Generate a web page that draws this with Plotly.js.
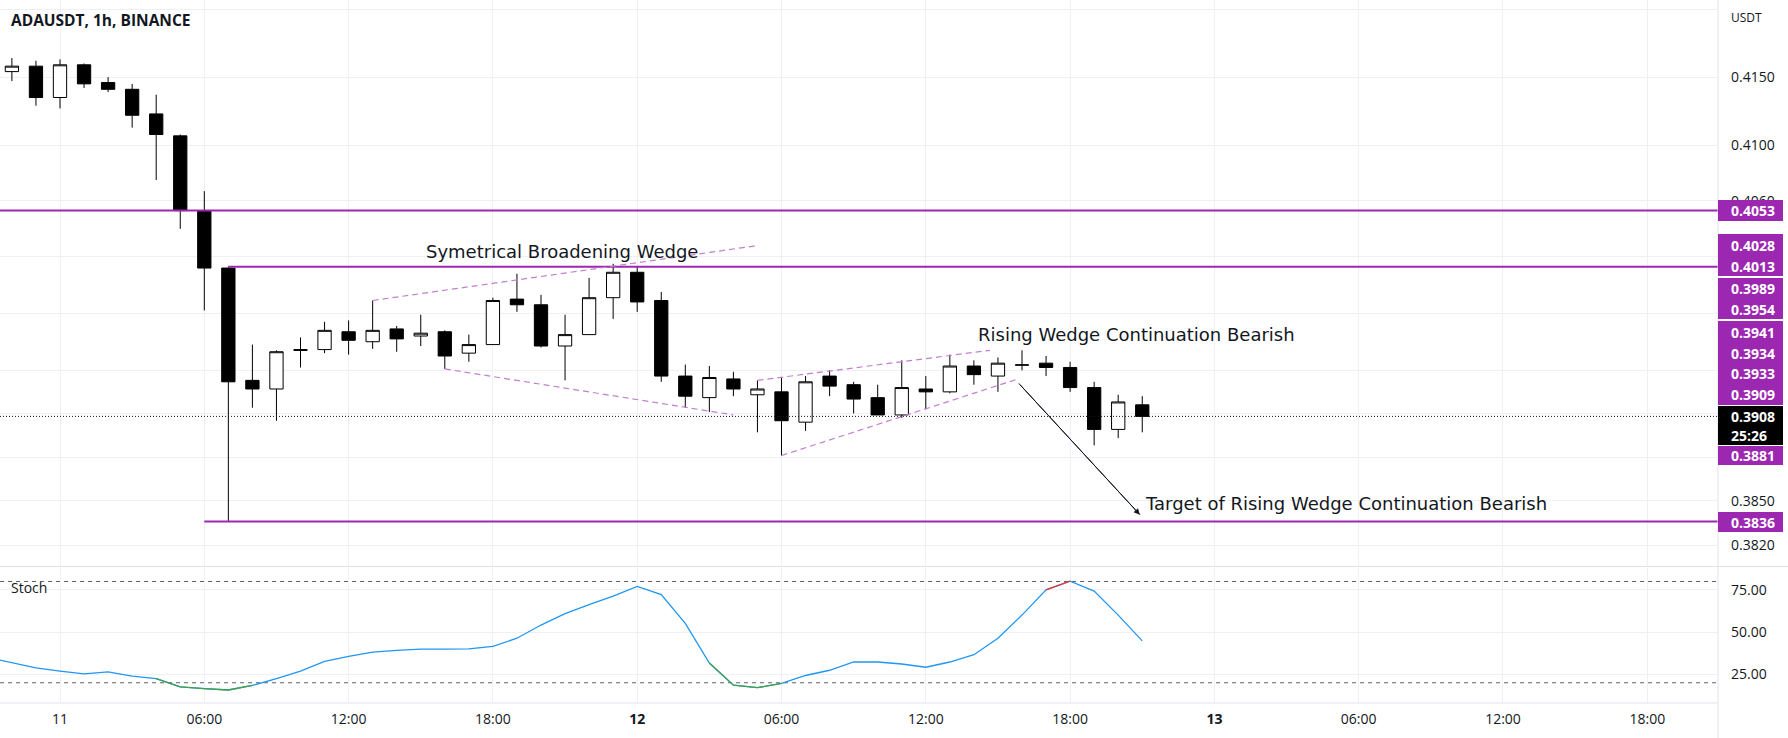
<!DOCTYPE html>
<html>
<head>
<meta charset="utf-8">
<script src="https://cdn.plot.ly/plotly-3.0.1.min.js"></script>
<style>
  html, body { margin: 0; padding: 0; background: #ffffff; }
  #chart { width: 1788px; height: 738px; }
</style>
</head>
<body>
<div id="chart"></div>
<script>
// ---------------- DATA ----------------
const candleTime = [
  '2023-02-10 22:00','2023-02-10 23:00',
  '2023-02-11 00:00','2023-02-11 01:00','2023-02-11 02:00','2023-02-11 03:00','2023-02-11 04:00','2023-02-11 05:00',
  '2023-02-11 06:00','2023-02-11 07:00','2023-02-11 08:00','2023-02-11 09:00','2023-02-11 10:00','2023-02-11 11:00',
  '2023-02-11 12:00','2023-02-11 13:00','2023-02-11 14:00','2023-02-11 15:00','2023-02-11 16:00','2023-02-11 17:00',
  '2023-02-11 18:00','2023-02-11 19:00','2023-02-11 20:00','2023-02-11 21:00','2023-02-11 22:00','2023-02-11 23:00',
  '2023-02-12 00:00','2023-02-12 01:00','2023-02-12 02:00','2023-02-12 03:00','2023-02-12 04:00','2023-02-12 05:00',
  '2023-02-12 06:00','2023-02-12 07:00','2023-02-12 08:00','2023-02-12 09:00','2023-02-12 10:00','2023-02-12 11:00',
  '2023-02-12 12:00','2023-02-12 13:00','2023-02-12 14:00','2023-02-12 15:00','2023-02-12 16:00','2023-02-12 17:00',
  '2023-02-12 18:00','2023-02-12 19:00','2023-02-12 20:00','2023-02-12 21:00'
];
const candleOpen = [
  0.4154, 0.4158,
  0.4135, 0.4159, 0.4146, 0.4141, 0.4123, 0.4107,
  0.4053, 0.4012, 0.3933, 0.3927, 0.39545, 0.39545,
  0.3967, 0.3960, 0.3969, 0.3964, 0.3967, 0.3952,
  0.3958, 0.3990, 0.3986, 0.3957, 0.3965, 0.3991,
  0.4009, 0.3989, 0.3936, 0.3921, 0.3934, 0.3923,
  0.3925, 0.3904, 0.3936, 0.3930, 0.3921, 0.3909,
  0.3927, 0.3925, 0.3943, 0.3936, 0.39436, 0.3945,
  0.3942, 0.3928, 0.3899, 0.3916
];
const candleHigh = [
  0.4164, 0.4162,
  0.4163, 0.4160, 0.4150, 0.4145, 0.4137, 0.4108,
  0.4067, 0.4013, 0.3958, 0.3954, 0.3963, 0.3974,
  0.3975, 0.3989, 0.3971, 0.3979, 0.3968, 0.3965,
  0.3991, 0.4008, 0.3993, 0.3979, 0.4005, 0.4015,
  0.4013, 0.3995, 0.3944, 0.3943, 0.3939, 0.3933,
  0.3935, 0.3936, 0.3940, 0.3932, 0.3930, 0.3947,
  0.3936, 0.3951, 0.3947, 0.3949, 0.3954, 0.3950,
  0.3946, 0.3932, 0.3923, 0.3922
];
const candleLow = [
  0.4147, 0.4129,
  0.4127, 0.4142, 0.4139, 0.4113, 0.4075, 0.4040,
  0.3982, 0.3836, 0.3914, 0.3905, 0.3942, 0.3952,
  0.3951, 0.3955, 0.3953, 0.3957, 0.3941, 0.3946,
  0.3958, 0.3981, 0.3956, 0.3933, 0.3965, 0.3976,
  0.3981, 0.3932, 0.3914, 0.3911, 0.3922, 0.3897,
  0.3881, 0.3898, 0.3922, 0.3910, 0.3909, 0.3907,
  0.3913, 0.3924, 0.3930, 0.3925, 0.3940, 0.3936,
  0.3925, 0.3888, 0.3893, 0.3897
];
const candleClose = [
  0.4158, 0.4135,
  0.4159, 0.4145, 0.4141, 0.4122, 0.4108, 0.4053,
  0.4012, 0.3932, 0.3927, 0.3953, 0.3954, 0.3968,
  0.3961, 0.3968, 0.3962, 0.3966, 0.3950, 0.3958,
  0.3989, 0.3986, 0.3957, 0.3965, 0.3991, 0.4009,
  0.3988, 0.3936, 0.3922, 0.3935, 0.3927, 0.3927,
  0.3905, 0.3932, 0.3929, 0.3920, 0.3909, 0.3928,
  0.3925, 0.3943, 0.3937, 0.3945, 0.39438, 0.3942,
  0.3928, 0.3899, 0.3918, 0.3908
];

// Stochastic %K (one point per hour, starting one bar before the first candle)
const stochTime = ['2023-02-10 21:00'].concat(candleTime);
const stochK = [
  34.9, 31.7, 28.8,
  26.9, 25.3, 26.5, 23.9, 22.4, 17.5,
  16.5, 15.7, 18.4, 22.4, 26.9, 32.7,
  35.6, 38.2, 39.2, 39.9, 39.9, 40.1,
  41.5, 46.4, 54.2, 61.0, 66.3, 71.4,
  77.1, 72.2, 55.2, 31.7, 18.6, 17.1,
  19.6, 24.3, 27.4, 32.3, 32.3, 31.1,
  29.2, 32.3, 36.6, 46.4, 60.1, 75.1,
  80.2, 74.3, 60.1, 44.8
];
const stochOverbought = 80;
const stochOversold = 20;

// Horizontal price levels (purple rays)
const levelPrice = [0.4053, 0.4013, 0.3836];
const levelStart = ['2023-02-10 21:30:18', '2023-02-11 07:00', '2023-02-11 06:00'];

// Pattern lines
const broadUpperTime = ['2023-02-11 13:00', '2023-02-12 05:00'];
const broadUpperPrice = [0.3989, 0.4028];
const broadLowerTime = ['2023-02-11 16:00', '2023-02-12 04:00'];
const broadLowerPrice = [0.3941, 0.3909];
const risingUpperTime = ['2023-02-12 05:00', '2023-02-12 14:40'];
const risingUpperPrice = [0.3933, 0.3954];
const risingLowerTime = ['2023-02-12 06:00', '2023-02-12 15:50'];
const risingLowerPrice = [0.3881, 0.3934];
const arrowTime = ['2023-02-12 15:52', '2023-02-12 20:54'];
const arrowPrice = [0.39309, 0.38406];

const lastPrice = 0.3908;

// Text drawings
const noteText = ['Symetrical Broadening Wedge', 'Rising Wedge Continuation Bearish', 'Target of Rising Wedge Continuation Bearish'];
const noteTime = ['2023-02-11 15:08', '2023-02-12 14:05', '2023-02-12 21:02'];
const notePrice = [0.40239, 0.39652, 0.38481];

// Axis ticks
const xTickVals = ['2023-02-11 00:00','2023-02-11 06:00','2023-02-11 12:00','2023-02-11 18:00',
                   '2023-02-12 00:00','2023-02-12 06:00','2023-02-12 12:00','2023-02-12 18:00',
                   '2023-02-13 00:00','2023-02-13 06:00','2023-02-13 12:00','2023-02-13 18:00'];
const xTickText = ['11','06:00','12:00','18:00','<b>12</b>','06:00','12:00','18:00','<b>13</b>','06:00','12:00','18:00'];
// grid levels of the log price scale; labels hidden behind the price tags are left empty
const priceTickVals = [0.4200, 0.4150, 0.4100, 0.4060, 0.4020, 0.3980, 0.3940, 0.3910, 0.3880, 0.3850, 0.3820];
const priceTickText = ['', '0.4150', '0.4100', '0.4060', '', '', '', '', '', '0.3850', '0.3820'];
const stochTickVals = [25, 50, 75];
const stochTickText = ['25.00', '50.00', '75.00'];

// Price-scale tags (text shown in the boxes on the right axis)
const tagLabels = ['0.4053', '0.4028', '0.4013', '0.3989', '0.3954', '0.3941', '0.3934', '0.3933', '0.3909', '0.3908', '25:26', '0.3881', '0.3836'];

// ---------------- LAYOUT CONSTANTS ----------------
const W = 1788, H = 738;
const PLOT_R = 1718;      // right edge of plotting area (price scale starts here)
const PLOT_B = 703;       // bottom of plotting area (time scale below)
const SPLIT = 566.5;      // boundary between price pane and stochastic pane
const xRange = ['2023-02-10 21:30:18', '2023-02-13 20:56:24'];
const priceRange = [0.38055, 0.42070];
const stochRange = [8.0, 88.3];

const PURPLE = '#9c27b0';
const TEXT = '#131722';
const GRID = '#eef0f5';
const BORDER = '#e0e3eb';

const px2py = (py) => (PLOT_B - py) / PLOT_B;   // pixel row -> paper y
const px2px = (px) => px / PLOT_R;              // pixel col -> paper x

// tag boxes on the price scale (pixel rows)
const tagBoxes = [
  { top: 200, bot: 221, idx: [0],          rows: [210.5], fill: PURPLE },
  { top: 234, bot: 276, idx: [1, 2],       rows: [245.5, 266], fill: PURPLE },
  { top: 278, bot: 319, idx: [3, 4],       rows: [288.5, 309.5], fill: PURPLE },
  { top: 321, bot: 405, idx: [5, 6, 7, 8], rows: [332, 353, 373.5, 394], fill: PURPLE },
  { top: 406, bot: 445, idx: [9, 10],      rows: [416.5, 435], fill: '#000000' },
  { top: 446, bot: 465, idx: [11],         rows: [455.5], fill: PURPLE },
  { top: 512, bot: 532, idx: [12],         rows: [522], fill: PURPLE }
];

// ---------------- TRACES ----------------
const traces = [];

for (let k = 0; k < levelPrice.length; k++) {
  traces.push({
    type: 'scatter', mode: 'lines', xaxis: 'x', yaxis: 'y',
    x: [levelStart[k], xRange[1]], y: [levelPrice[k], levelPrice[k]],
    line: { color: PURPLE, width: 2 }, hoverinfo: 'skip'
  });
}
traces.push({
  type: 'scatter', mode: 'lines', xaxis: 'x', yaxis: 'y',
  x: [xRange[0], xRange[1]], y: [lastPrice, lastPrice],
  line: { color: TEXT, width: 1, dash: '1px,2px' }, hoverinfo: 'skip'
});
[[broadUpperTime, broadUpperPrice], [broadLowerTime, broadLowerPrice],
 [risingUpperTime, risingUpperPrice], [risingLowerTime, risingLowerPrice]].forEach(([t, p]) => {
  traces.push({
    type: 'scatter', mode: 'lines', xaxis: 'x', yaxis: 'y',
    x: t, y: p, line: { color: '#c27fcf', width: 1.2, dash: '6px,4px' }, hoverinfo: 'skip'
  });
});
traces.push({
  type: 'scatter', mode: 'lines', xaxis: 'x', yaxis: 'y',
  x: arrowTime, y: arrowPrice, line: { color: TEXT, width: 1 }, hoverinfo: 'skip'
});

traces.push({
  type: 'candlestick', xaxis: 'x', yaxis: 'y',
  x: candleTime, open: candleOpen, high: candleHigh, low: candleLow, close: candleClose,
  increasing: { line: { color: '#000000', width: 1 }, fillcolor: '#ffffff' },
  decreasing: { line: { color: '#000000', width: 1 }, fillcolor: '#000000' },
  whiskerwidth: 0, hoverinfo: 'skip'
});

traces.push({
  type: 'scatter', mode: 'lines', xaxis: 'x', yaxis: 'y2',
  x: stochTime, y: stochK, line: { color: '#2196f3', width: 1.3 }, hoverinfo: 'skip'
});
function zoneSegments(test) {
  const xs = [], ys = [];
  for (let i = 1; i < stochK.length; i++) {
    if (test(stochK[i])) {
      xs.push(stochTime[i - 1], stochTime[i], null);
      ys.push(stochK[i - 1], stochK[i], null);
    }
  }
  return { xs, ys };
}
const low = zoneSegments(v => v < stochOversold);
const high = zoneSegments(v => v > stochOverbought);
traces.push({
  type: 'scatter', mode: 'lines', xaxis: 'x', yaxis: 'y2', connectgaps: false,
  x: low.xs, y: low.ys, line: { color: '#43a047', width: 1.3 }, hoverinfo: 'skip'
});
traces.push({
  type: 'scatter', mode: 'lines', xaxis: 'x', yaxis: 'y2', connectgaps: false,
  x: high.xs, y: high.ys, line: { color: '#e53935', width: 1.3 }, hoverinfo: 'skip'
});

// ---------------- SHAPES ----------------
const shapes = [
  { type: 'line', xref: 'paper', yref: 'y2', x0: 0, x1: 1, y0: stochOverbought, y1: stochOverbought,
    line: { color: '#5d606b', width: 1, dash: '4px,4px' }, layer: 'below' },
  { type: 'line', xref: 'paper', yref: 'y2', x0: 0, x1: 1, y0: stochOversold, y1: stochOversold,
    line: { color: '#5d606b', width: 1, dash: '4px,4px' }, layer: 'below' },
  { type: 'line', xref: 'paper', yref: 'paper', x0: 0, x1: W / PLOT_R, y0: px2py(SPLIT), y1: px2py(SPLIT),
    line: { color: BORDER, width: 1 } },
  { type: 'line', xref: 'paper', yref: 'paper', x0: 0, x1: 1, y0: 0, y1: 0,
    line: { color: BORDER, width: 1 } },
  { type: 'line', xref: 'paper', yref: 'paper', x0: 1, x1: 1, y0: px2py(H), y1: 1,
    line: { color: BORDER, width: 1 } }
];
tagBoxes.forEach(b => {
  shapes.push({ type: 'rect', xref: 'paper', yref: 'paper', layer: 'above',
    x0: px2px(PLOT_R), x1: px2px(1783), y0: px2py(b.bot), y1: px2py(b.top),
    fillcolor: b.fill, line: { width: 0 } });
});

// ---------------- ANNOTATIONS ----------------
const annotations = [];
annotations.push({ xref: 'paper', yref: 'paper', x: px2px(9), y: px2py(20), xanchor: 'left', yanchor: 'middle',
  text: '<b>ADAUSDT, 1h, BINANCE</b>', showarrow: false, font: { size: 15.5, color: TEXT } });
annotations.push({ xref: 'paper', yref: 'paper', x: px2px(9), y: px2py(587), xanchor: 'left', yanchor: 'middle',
  text: 'Stoch', showarrow: false, font: { size: 14, color: TEXT } });
annotations.push({ xref: 'paper', yref: 'paper', x: px2px(1729), y: px2py(17), xanchor: 'left', yanchor: 'middle',
  text: 'USDT', showarrow: false, font: { size: 12, color: TEXT } });
for (let k = 0; k < noteText.length; k++) {
  annotations.push({ xref: 'x', yref: 'y', x: noteTime[k], y: Math.log10(notePrice[k]),
    xanchor: 'left', yanchor: 'middle', text: noteText[k], showarrow: false,
    font: { family: '"DejaVu Sans", Verdana, sans-serif', size: 18, color: TEXT } });
}
annotations.push({ xref: 'x', yref: 'y', x: arrowTime[1], y: Math.log10(arrowPrice[1]),
  axref: 'x', ayref: 'y', ax: arrowTime[0], ay: Math.log10(arrowPrice[0]),
  text: '', showarrow: true, arrowhead: 2, arrowsize: 1.2, arrowwidth: 1, arrowcolor: TEXT, standoff: 0 });
tagBoxes.forEach(b => {
  b.idx.forEach((li, r) => {
    annotations.push({ xref: 'paper', yref: 'paper', x: px2px(1729), y: px2py(b.rows[r]),
      xanchor: 'left', yanchor: 'middle', text: '<b>' + tagLabels[li] + '</b>', showarrow: false,
      font: { size: 14, color: '#ffffff' } });
  });
});

// ---------------- LAYOUT ----------------
const layout = {
  width: W, height: H,
  margin: { l: 0, r: W - PLOT_R, t: 0, b: H - PLOT_B, pad: 0 },
  paper_bgcolor: '#ffffff', plot_bgcolor: '#ffffff',
  showlegend: false, hovermode: false, dragmode: false,
  boxgap: 0.21,
  font: { family: '"Open Sans", "Noto Sans", sans-serif', color: TEXT, size: 14 },
  xaxis: {
    type: 'date', range: xRange, anchor: 'y2',
    tickmode: 'array', tickvals: xTickVals, ticktext: xTickText,
    showgrid: true, gridcolor: GRID, gridwidth: 1, zeroline: false, showline: false,
    ticks: '', ticklabelstandoff: 6, tickfont: { size: 14, color: TEXT },
    rangeslider: { visible: false }, fixedrange: true
  },
  yaxis: {
    type: 'log', domain: [px2py(SPLIT), 1], anchor: 'x', side: 'right',
    range: [Math.log10(priceRange[0]), Math.log10(priceRange[1])],
    tickmode: 'array', tickvals: priceTickVals, ticktext: priceTickText,
    showgrid: true, gridcolor: GRID, zeroline: false, showline: false,
    ticks: '', ticklabelstandoff: 12, tickfont: { size: 14, color: TEXT }, fixedrange: true
  },
  yaxis2: {
    domain: [0, px2py(SPLIT + 1)], anchor: 'x', side: 'right', range: stochRange,
    tickmode: 'array', tickvals: stochTickVals, ticktext: stochTickText,
    showgrid: true, gridcolor: GRID, zeroline: false, showline: false,
    ticks: '', ticklabelstandoff: 12, tickfont: { size: 14, color: TEXT }, fixedrange: true
  },
  shapes: shapes,
  annotations: annotations
};

Plotly.newPlot('chart', traces, layout, { displayModeBar: false, staticPlot: true });
</script>
</body>
</html>
